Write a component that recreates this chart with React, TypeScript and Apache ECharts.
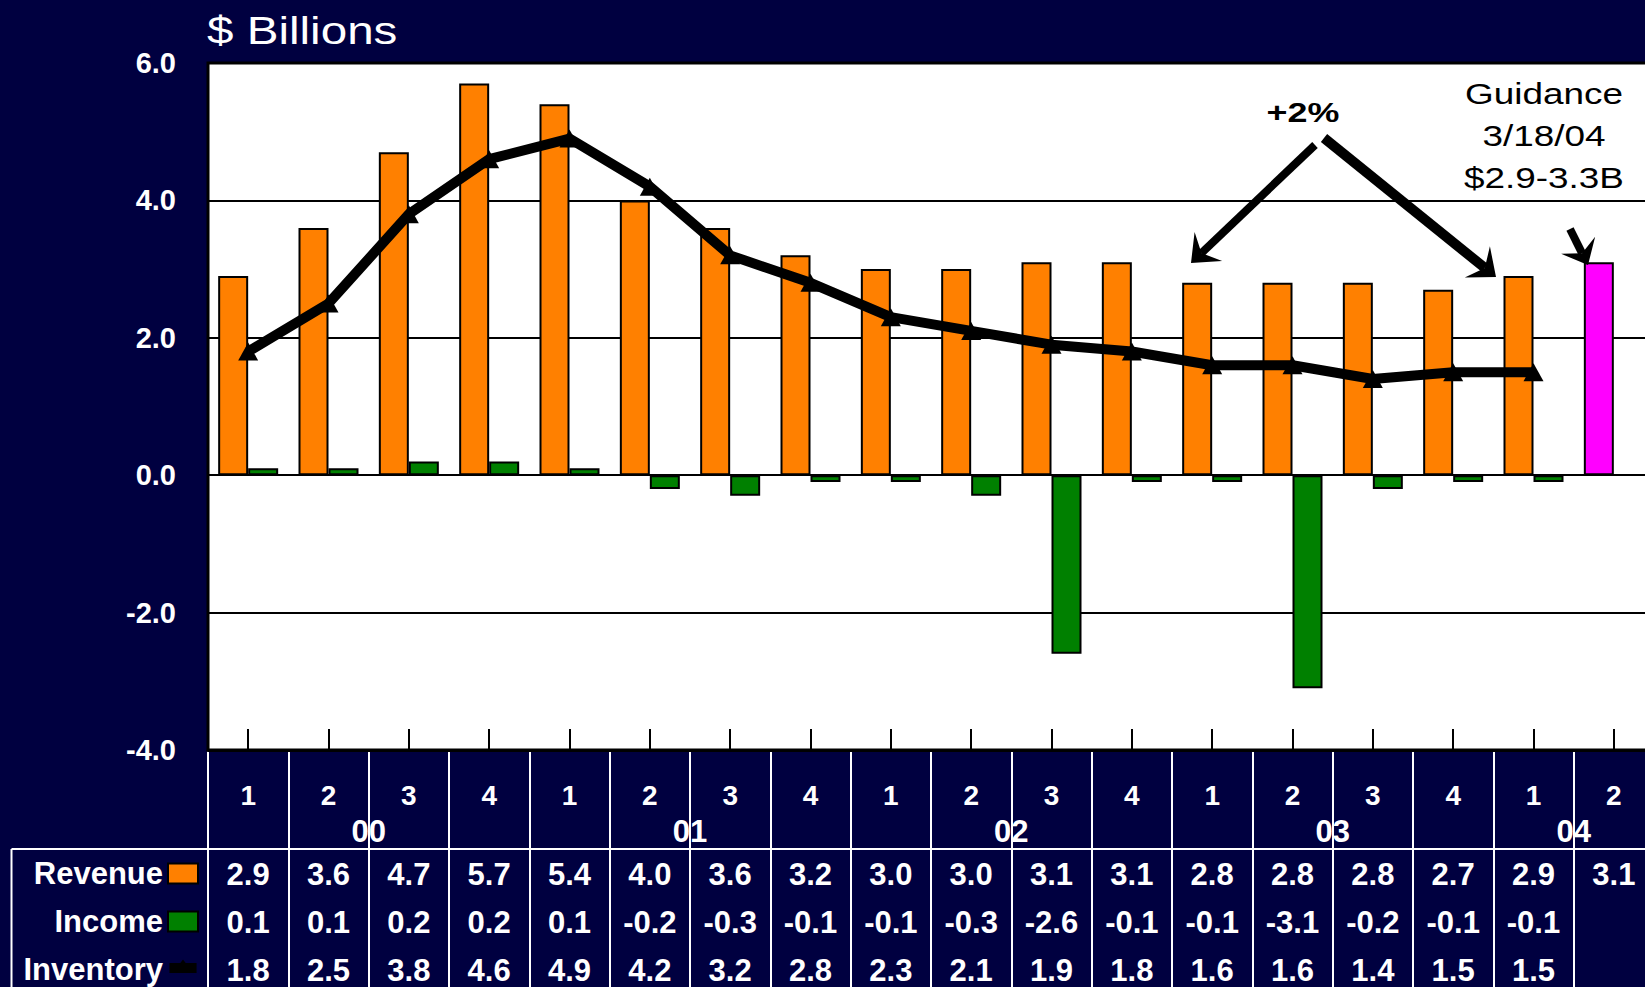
import React, { useEffect, useRef } from 'react';
import * as echarts from 'echarts';

// ---------- data ----------
const quarterLabels = ['1', '2', '3', '4', '1', '2', '3', '4', '1', '2', '3', '4', '1', '2', '3', '4', '1', '2'];
const yearOfQuarter = ['00', '00', '00', '00', '01', '01', '01', '01', '02', '02', '02', '02', '03', '03', '03', '03', '04', '04'];
const seriesNames = ['Revenue', 'Income', 'Inventory'];
const revenue = [2.9, 3.6, 4.7, 5.7, 5.4, 4.0, 3.6, 3.2, 3.0, 3.0, 3.1, 3.1, 2.8, 2.8, 2.8, 2.7, 2.9, 3.1];
const income: (number | null)[] = [0.1, 0.1, 0.2, 0.2, 0.1, -0.2, -0.3, -0.1, -0.1, -0.3, -2.6, -0.1, -0.1, -3.1, -0.2, -0.1, -0.1, null];
const inventory: (number | null)[] = [1.8, 2.5, 3.8, 4.6, 4.9, 4.2, 3.2, 2.8, 2.3, 2.1, 1.9, 1.8, 1.6, 1.6, 1.4, 1.5, 1.5, null];
const guidanceIndex = 17;
const yMin = -4;
const yMax = 6;
const yInterval = 2;
const unitText = '$ Billions';
const growthText = '+2%';
const guidanceText = ['Guidance', '3/18/04', '$2.9-3.3B'];

// ---------- styles ----------
const BG = '#000040';
const ORANGE = '#FF8000';
const GREEN = '#008000';
const MAGENTA = '#FF00FF';
const ARIAL = '"Liberation Sans", Arial, Helvetica, sans-serif';

const fmt = (v: number | null) => (v == null ? '' : v.toFixed(1));

// year label positions (middle of each run of quarters, in category units)
const yearMarks: Record<number, string> = {};
{
  let start = 0;
  for (let i = 1; i <= yearOfQuarter.length; i++) {
    if (i === yearOfQuarter.length || yearOfQuarter[i] !== yearOfQuarter[start]) {
      yearMarks[(start + i) / 2] = yearOfQuarter[start];
      start = i;
    }
  }
}

const rowAxis = (texts: string[], margin: number) => ({
  type: 'category',
  gridIndex: 0,
  position: 'bottom',
  data: texts,
  axisLine: { show: false },
  axisTick: { show: false },
  splitLine: { show: false },
  axisLabel: {
    interval: 0,
    margin,
    color: '#FFFFFF',
    fontFamily: ARIAL,
    fontWeight: 'bold',
    fontSize: 31,
    verticalAlign: 'middle',
  },
});

function arrow(sx: number, sy: number, tx: number, ty: number, w: number, L: number, H: number) {
  const dx = tx - sx;
  const dy = ty - sy;
  const len = Math.sqrt(dx * dx + dy * dy);
  const ux = dx / len;
  const uy = dy / len;
  const px = -uy;
  const py = ux;
  const bx = tx - L * ux;
  const by = ty - L * uy;
  const nx = tx - 0.6 * L * ux;
  const ny = ty - 0.6 * L * uy;
  return [
    {
      type: 'line',
      z: 100,
      shape: { x1: sx, y1: sy, x2: nx, y2: ny },
      style: { stroke: '#000', lineWidth: w, lineCap: 'butt' },
    },
    {
      type: 'polygon',
      z: 100,
      shape: {
        points: [
          [tx, ty],
          [bx + H * px, by + H * py],
          [nx, ny],
          [bx - H * px, by - H * py],
        ],
      },
      style: { fill: '#000' },
    },
  ];
}

const textEl = (
  text: string,
  x: number,
  y: number,
  size: number,
  weight: string,
  color: string,
  align: string,
  scaleX: number,
  lineHeight?: number
) => ({
  type: 'text',
  z: 100,
  x,
  y,
  scaleX,
  style: {
    text,
    fill: color,
    fontFamily: ARIAL,
    fontSize: size,
    fontWeight: weight,
    align,
    textAlign: align,
    verticalAlign: 'middle',
    textVerticalAlign: 'middle',
    lineHeight: lineHeight ?? size,
  },
});

export default function App() {
  const ref = useRef<HTMLDivElement>(null);

  useEffect(() => {
    if (!ref.current) return;
    const chart = echarts.init(ref.current, null, { renderer: 'svg' });

    const gridPos = { left: 208, right: -9 };

    const option: any = {
      animation: false,
      backgroundColor: BG,
      grid: [
        {
          ...gridPos,
          top: 63,
          bottom: 237,
          show: true,
          backgroundColor: '#FFFFFF',
          borderColor: '#000000',
          borderWidth: 3,
          containLabel: false,
          outerBoundsMode: 'none',
        },
        {
          ...gridPos,
          top: 750,
          bottom: 0,
          show: false,
          containLabel: false,
          outerBoundsMode: 'none',
        },
      ],
      legend: {
        data: [
          { name: seriesNames[0], icon: 'rect' },
          { name: seriesNames[1], icon: 'rect' },
          {
            name: seriesNames[2],
            icon: 'path://M0,4 L12,4 L15,0 L18,4 L30,4 L30,15 L0,15 Z M0,22 L0.1,22 L0,22.1 Z',
            itemStyle: { color: '#000', borderWidth: 0 },
          },
        ],
        orient: 'vertical',
        align: 'right',
        right: 1645 - 199,
        top: 858,
        padding: 0,
        itemWidth: 30,
        itemHeight: 20,
        itemGap: 17,
        selectedMode: false,
        textStyle: {
          color: '#FFFFFF',
          fontFamily: ARIAL,
          fontWeight: 'bold',
          fontSize: 31,
          lineHeight: 31,
        },
      },
      xAxis: [
        {
          type: 'category',
          gridIndex: 0,
          position: 'bottom',
          data: quarterLabels,
          boundaryGap: true,
          axisLine: { show: true, onZero: false, lineStyle: { color: '#000', width: 3 } },
          axisTick: {
            show: true,
            inside: true,
            alignWithLabel: true,
            length: 21,
            lineStyle: { color: '#000', width: 2 },
          },
          axisLabel: {
            interval: 0,
            margin: 45,
            color: '#FFFFFF',
            fontFamily: ARIAL,
            fontWeight: 'bold',
            fontSize: 28,
            verticalAlign: 'middle',
          },
          splitLine: { show: false },
        },
        {
          type: 'value',
          gridIndex: 0,
          position: 'bottom',
          min: 0,
          max: quarterLabels.length,
          interval: 1,
          axisLine: { show: false },
          axisTick: { show: false },
          splitLine: { show: false },
          axisLabel: {
            formatter: (v: number) => yearMarks[v] ?? '',
            margin: 81,
            color: '#FFFFFF',
            fontFamily: ARIAL,
            fontWeight: 'bold',
            fontSize: 31,
            verticalAlign: 'middle',
            showMinLabel: true,
            showMaxLabel: true,
          },
        },
        rowAxis(revenue.map(fmt), 124),
        rowAxis(income.map(fmt), 172),
        rowAxis(inventory.map(fmt), 220),
        {
          type: 'value',
          gridIndex: 1,
          min: 0,
          max: quarterLabels.length,
          interval: 1,
          axisLine: { show: false },
          axisTick: { show: false },
          axisLabel: { show: false },
          splitLine: { show: true, lineStyle: { color: '#FFFFFF', width: 2 } },
        },
      ],
      yAxis: [
        {
          type: 'value',
          gridIndex: 0,
          min: yMin,
          max: yMax,
          interval: yInterval,
          axisLine: { show: false },
          axisTick: { show: false },
          splitLine: { show: true, lineStyle: { color: '#000', width: 2 } },
          axisLabel: {
            formatter: (v: number) => v.toFixed(1),
            color: '#FFFFFF',
            fontFamily: ARIAL,
            fontWeight: 'bold',
            fontSize: 29,
            margin: 32,
            padding: [6, 0, 0, 0],
          },
        },
        { type: 'value', gridIndex: 1, min: 0, max: 1, show: false },
      ],
      series: [
        {
          name: seriesNames[0],
          type: 'bar',
          xAxisIndex: 0,
          yAxisIndex: 0,
          barWidth: 30,
          barGap: '0%',
          itemStyle: { color: ORANGE, borderColor: '#000', borderWidth: 2 },
          data: revenue.map((v, i) =>
            i === guidanceIndex ? { value: v, itemStyle: { color: MAGENTA } } : v
          ),
        },
        {
          name: seriesNames[1],
          type: 'bar',
          xAxisIndex: 0,
          yAxisIndex: 0,
          barWidth: 30,
          barGap: '0%',
          itemStyle: { color: GREEN, borderColor: '#000', borderWidth: 2 },
          data: income,
        },
        {
          name: seriesNames[2],
          type: 'line',
          xAxisIndex: 0,
          yAxisIndex: 0,
          z: 5,
          symbol: 'triangle',
          symbolSize: [20, 18],
          showSymbol: true,
          lineStyle: { color: '#000', width: 10 },
          itemStyle: { color: '#000' },
          data: inventory,
        },
      ],
      graphic: [
        textEl(unitText, 207, 31, 39, 'normal', '#FFFFFF', 'left', 1.22),
        textEl(growthText, 1303, 113, 27, 'bold', '#000000', 'center', 1.33),
        textEl(guidanceText.join('\n'), 1544, 136, 30, 'normal', '#000000', 'center', 1.23, 42),
        ...arrow(1315, 145, 1191, 263, 8, 24, 20),
        ...arrow(1324, 138, 1496, 277, 10, 24, 20),
        ...arrow(1570, 229, 1588, 265, 8, 22, 19),
        {
          type: 'line',
          z: 100,
          shape: { x1: 11.5, y1: 849, x2: 1645, y2: 849 },
          style: { stroke: '#FFFFFF', lineWidth: 2 },
        },
        {
          type: 'line',
          z: 100,
          shape: { x1: 11.5, y1: 849, x2: 11.5, y2: 987 },
          style: { stroke: '#FFFFFF', lineWidth: 2 },
        },
      ],
    };

    chart.setOption(option);
    return () => chart.dispose();
  }, []);

  return (
    <div
      style={{
        position: 'fixed',
        left: 0,
        top: 0,
        width: 1645,
        height: 987,
        overflow: 'hidden',
        background: BG,
      }}
    >
      <div ref={ref} style={{ width: 1645, height: 987 }} />
    </div>
  );
}
